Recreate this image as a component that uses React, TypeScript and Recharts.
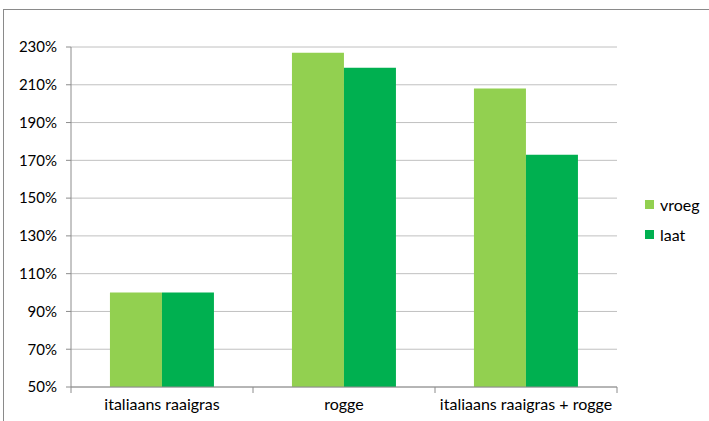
import React from 'react';
import { BarChart, Bar, XAxis, YAxis, CartesianGrid, Legend } from 'recharts';

const categories = ['italiaans raaigras', 'rogge', 'italiaans raaigras + rogge'];
const vroeg = [100, 227, 208];
const laat = [100, 219, 173];
const yTicks = [50, 70, 90, 110, 130, 150, 170, 190, 210, 230];
const seriesOrder = ['vroeg', 'laat'];

const data = categories.map((name, i) => ({ name, vroeg: vroeg[i], laat: laat[i] }));

const FONT = 'Lato, "Open Sans", sans-serif';
const AXIS = '#8c8c8c';
const GRID = '#c0c0c0';

// Category labels, plus the boundary tick marks between categories
const CategoryTick = (props: any) => {
  const { x, y, payload, index } = props;
  const half = payload && payload.offset ? payload.offset : 91;
  return (
    <g>
      <line x1={x - half} x2={x - half} y1={y - 8} y2={y - 2} stroke={AXIS} strokeWidth={1} />
      {index === categories.length - 1 && (
        <line x1={x + half} x2={x + half} y1={y - 8} y2={y - 2} stroke={AXIS} strokeWidth={1} />
      )}
      <text x={x} y={y + 15} textAnchor="middle" fill="#000" fontSize={16} fontFamily={FONT}>
        {payload.value}
      </text>
    </g>
  );
};

const LegendContent = (props: any) => {
  const payload = [...(props.payload || [])].sort(
    (a: any, b: any) => seriesOrder.indexOf(a.dataKey) - seriesOrder.indexOf(b.dataKey)
  );
  return (
    <div style={{ fontFamily: FONT, fontSize: 16, color: '#000' }}>
      {payload.map((p: any) => (
        <div key={p.value} style={{ display: 'flex', alignItems: 'center', height: 30 }}>
          <span style={{ display: 'inline-block', width: 9, height: 9, background: p.color, marginRight: 6 }} />
          <span>{p.value}</span>
        </div>
      ))}
    </div>
  );
};

export default function App() {
  return (
    <div style={{ position: 'fixed', left: 0, top: 0, width: 709, height: 421, background: '#fff', overflow: 'hidden' }}>
      <div
        style={{
          position: 'absolute',
          left: 3,
          top: 9,
          width: 800,
          height: 500,
          borderTop: '1px solid #8a8a8a',
          borderLeft: '1px solid #8a8a8a',
        }}
      />
      <div style={{ position: 'absolute', left: 0, top: 0 }}>
        <BarChart
          width={709}
          height={421}
          data={data}
          margin={{ top: 47, right: 28, bottom: 4, left: 11 }}
          barGap={0}
          barCategoryGap="21.4%"
        >
          <CartesianGrid vertical={false} stroke={GRID} strokeWidth={1} />
          <XAxis
            dataKey="name"
            height={30}
            axisLine={{ stroke: AXIS }}
            tickLine={false}
            tick={<CategoryTick />}
            interval={0}
          />
          <YAxis
            width={60}
            domain={[50, 230]}
            ticks={yTicks}
            interval={0}
            tickFormatter={(v: number) => `${v}%`}
            axisLine={{ stroke: AXIS }}
            tickLine={{ stroke: AXIS }}
            tickSize={5}
            tickMargin={9}
            tick={{ fill: '#000', fontSize: 15, fontFamily: FONT }}
          />
          <Legend
            layout="vertical"
            align="right"
            verticalAlign="middle"
            content={<LegendContent />}
            wrapperStyle={{ left: 645, top: 189, width: 64 }}
          />
          <Bar dataKey="vroeg" name="vroeg" fill="#92D050" isAnimationActive={false} />
          <Bar dataKey="laat" name="laat" fill="#00B050" isAnimationActive={false} />
        </BarChart>
      </div>
    </div>
  );
}
